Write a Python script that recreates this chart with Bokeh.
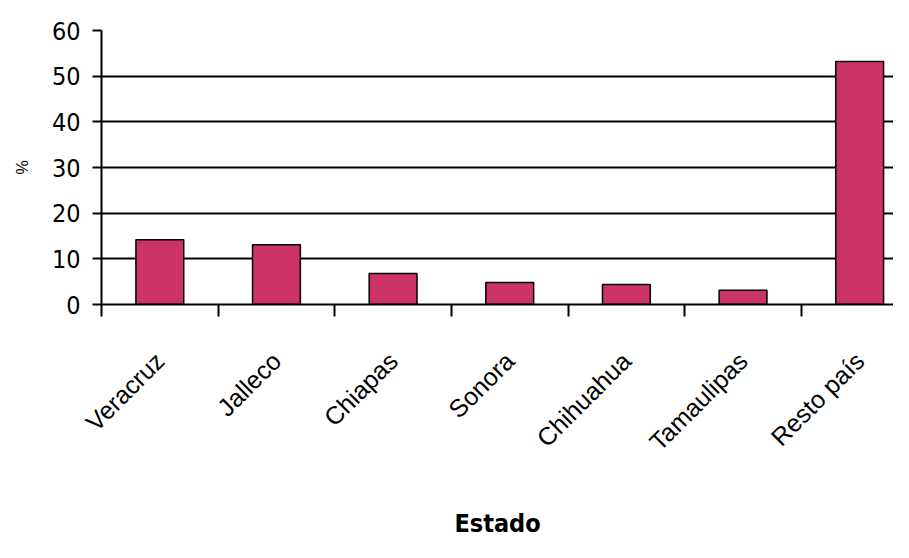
from bokeh.plotting import figure
from bokeh.models import Range1d, FixedTicker, LinearAxis, Grid
from bokeh.embed import file_html
from bokeh.resources import INLINE
import math

estados = ["Veracruz", "Jalleco", "Chiapas", "Sonora", "Chihuahua", "Tamaulipas", "Resto país"]
porcentajes = [14.2, 13.1, 6.8, 4.8, 4.4, 3.1, 53.2]
y_ticks = [0, 10, 20, 30, 40, 50, 60]

n = len(estados)
centers = [i + 0.5 for i in range(n)]

NARROW = "Liberation Sans Narrow, DejaVu Sans Condensed, Liberation Sans, sans-serif"

p = figure(width=893, height=542, output_backend="svg", toolbar_location=None,
           x_range=Range1d(0, 6.79), y_range=Range1d(0, 60),
           x_axis_type=None, y_axis_type=None,
           min_border_left=101, min_border_top=30, min_border_right=0, min_border_bottom=238)
p.outline_line_color = None
p.background_fill_color = "white"
p.border_fill_color = "white"

p.vbar(x=centers, top=porcentajes, width=0.41, fill_color="#cc3366",
       line_color="black", line_width=1.5)

yaxis = LinearAxis(ticker=FixedTicker(ticks=y_ticks))
yaxis.axis_line_color = "black"
yaxis.axis_line_width = 2
yaxis.major_tick_out = 9
yaxis.major_tick_in = 0
yaxis.major_tick_line_width = 2
yaxis.minor_tick_line_color = None
yaxis.major_label_text_font = NARROW
yaxis.major_label_text_font_size = "25px"
yaxis.major_label_text_color = "black"
yaxis.major_label_standoff = 12
yaxis.axis_label = "%"
yaxis.axis_label_text_font = "Liberation Sans"
yaxis.axis_label_text_font_style = "normal"
yaxis.axis_label_text_font_size = "16px"
yaxis.axis_label_text_color = "black"
yaxis.axis_label_standoff = 18
p.add_layout(yaxis, "left")

xaxis = LinearAxis(ticker=FixedTicker(ticks=centers, minor_ticks=list(range(n))))
xaxis.major_label_overrides = {c: e for c, e in zip(centers, estados)}
xaxis.axis_line_color = "black"
xaxis.axis_line_width = 2
xaxis.major_tick_line_color = None
xaxis.major_tick_out = 0
xaxis.major_tick_in = 0
xaxis.minor_tick_out = 12
xaxis.minor_tick_in = 0
xaxis.minor_tick_line_color = "black"
xaxis.minor_tick_line_width = 2
xaxis.major_label_orientation = math.pi / 4
xaxis.major_label_text_font = "Liberation Sans"
xaxis.major_label_text_font_size = "25px"
xaxis.major_label_text_color = "black"
xaxis.major_label_standoff = 40
xaxis.axis_label = "Estado"
xaxis.axis_label_text_font = NARROW
xaxis.axis_label_text_font_style = "bold"
xaxis.axis_label_text_font_size = "25px"
xaxis.axis_label_text_color = "black"
xaxis.axis_label_standoff = 40
p.add_layout(xaxis, "below")

p.ygrid.visible = False
p.xgrid.visible = False
grid = Grid(dimension=1, ticker=FixedTicker(ticks=y_ticks[1:]), grid_line_color="black",
            grid_line_width=2)
p.add_layout(grid)

open("out.html", "w").write(file_html(p, INLINE))
